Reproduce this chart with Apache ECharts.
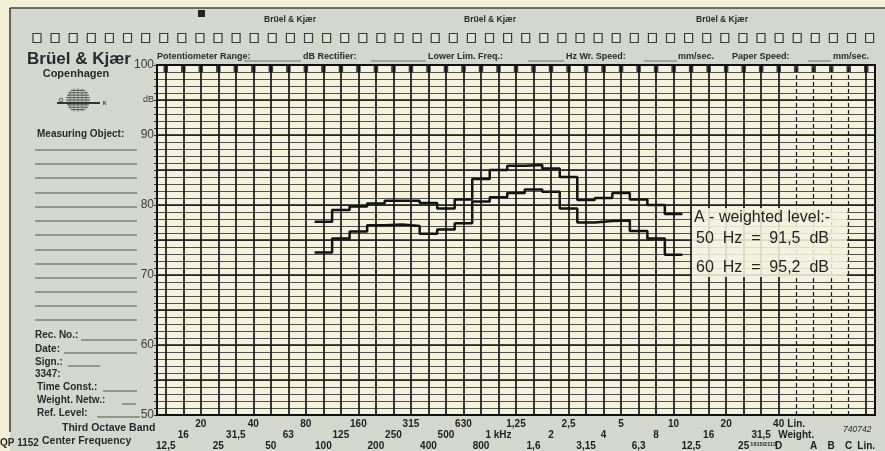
<!DOCTYPE html>
<html><head><meta charset="utf-8">
<script src="https://cdn.jsdelivr.net/npm/echarts@6/dist/echarts.min.js"></script>
<style>html,body{margin:0;padding:0;background:#d4d7ce;}#c{width:885px;height:451px;}</style>
</head><body><div id="c"></div>
<script>
// ---- data ----
const bandLabels = ['12,5','16','20','25','31,5','40','50','63','80','100','125','160','200','250','315','400','500','630','800','1 kHz','1,25','1,6','2','2,5','3,15','4','5','6,3','8','10','12,5','16','20','25','31,5','40'];
const row1Extra = {36: 'Lin.'};
const row2Extra = {36: 'Weight.'};
const row3Extra = {34: '1615/2113', 35: 'D', 37: 'A', 38: 'B', 39: 'C', 40: 'Lin.'};
const dashedColumns = [36, 37, 38, 39];
const yTickLabels = {100: '100', 95: 'dB', 90: '90', 80: '80', 70: '70', 60: '60', 50: '50'};
const upperStart = 9;   // first band index (100 Hz)
const upperLevels = [77.6, 79.3, 79.8, 80.2, 80.6, 80.6, 80.3, 79.5, 80.8, 83.7, 85.0, 85.6, 85.7, 85.2, 84.0, 80.7, 81.0, 81.7, 80.8, 80.0, 78.7];
const lowerStart = 9;
const lowerLevels = [73.2, 75.2, 76.2, 77.1, 77.2, 77.0, 75.9, 76.5, 77.4, 80.5, 81.1, 81.7, 82.2, 81.9, 79.5, 77.5, 77.7, 77.8, 76.3, 75.2, 72.9];
const noteLines = ['A - weighted level:-', '50  Hz  =  91,5  dB', '60  Hz  =  95,2  dB'];
const headerFields = [
  ['Potentiometer Range:', 157], ['dB Rectifier:', 303], ['Lower Lim. Freq.:', 428],
  ['Hz Wr. Speed:', 566], ['mm/sec.', 678], ['Paper Speed:', 732], ['mm/sec.', 833]
];
const headerBlanks = [[244, 301], [371, 426], [528, 564], [644, 677], [808, 831]];

// ---- build ----
const F = '"Liberation Sans", Arial, sans-serif';
const nCols = 41;
function rowArr(r, extra) {
  const a = [];
  for (let i = 0; i < nCols; i++) {
    a.push(i < bandLabels.length && (i % 3) === r ? bandLabels[i] : (extra[i] || ''));
  }
  return a;
}
function stepData(start, vals) {
  const d = vals.map((v, i) => [start + i, v]);
  d.push([start + vals.length, vals[vals.length - 1]]);
  return d;
}
function catAxis(data, offset) {
  return {
    type: 'category', data, position: 'bottom', offset, boundaryGap: true,
    axisLine: {show: false}, axisTick: {show: false}, splitLine: {show: false},
    axisLabel: {
      interval: 0, margin: 2, fontSize: 10, fontWeight: 'bold', color: '#222', fontFamily: F,
      formatter: v => v === '1615/2113' ? '{s|' + v + '}' : v,
      rich: {s: {fontSize: 5.5, fontWeight: 'bold', fontFamily: F, color: '#222', padding: [0, 0, 0, 4]}}
    }
  };
}
const vLines = [];
for (let k = 0; k < nCols; k++) {
  const dashed = dashedColumns.indexOf(k) >= 0;
  vLines.push({xAxis: k + 0.5, lineStyle: {color: '#161616', width: dashed ? 1.2 : 1.7, type: dashed ? [4, 3] : 'solid'}});
}
const topMarks = [];
for (let k = 0; k < nCols; k++) topMarks.push([k + 0.5, 100]);

function txt(text, x, y, size, opts) {
  opts = opts || {};
  return {type: 'text', x, y, z: opts.z || 10, style: {
    text, font: (opts.style || '') + ' ' + (opts.weight || 'bold') + ' ' + size + 'px ' + F,
    fill: opts.color || '#2a2a2a', align: opts.align || 'left', textAlign: opts.align || 'left',
    verticalAlign: 'middle', textVerticalAlign: 'middle'}};
}
function ln(x1, y1, x2, y2, w, c, z) {
  return {type: 'line', z: z || 10, shape: {x1, y1, x2, y2}, style: {stroke: c || '#444', lineWidth: w || 1}};
}
const g = [];
g.push({type: 'rect', z: 1, shape: {x: 0, y: 0, width: 885, height: 8}, style: {fill: '#f3eed8'}});
g.push({type: 'rect', z: 1, shape: {x: 0, y: 0, width: 10, height: 451}, style: {fill: '#f3eed8'}});
g.push(ln(10, 8, 885, 8, 1.6, '#444'));
g.push(ln(10, 8, 10, 432, 1.6, '#444'));
g.push({type: 'rect', z: 10, shape: {x: 198, y: 10, width: 7, height: 7}, style: {fill: '#222'}});
[290, 490, 722].forEach(cx => g.push(txt('Brüel & Kjær', cx, 20, 8.5, {align: 'center'})));
for (let i = 0; 37 + 18.1 * i < 884; i++) {
  g.push({type: 'rect', z: 10, shape: {x: 33 + 18.1 * i, y: 33.5, width: 8, height: 9}, style: {fill: '#dfe1d9', stroke: '#3a3a3a', lineWidth: 1.2}});
}
headerFields.forEach(f => g.push(txt(f[0], f[1], 57, 9, {})));
headerBlanks.forEach(b => g.push(ln(b[0], 61, b[1], 61, 0.8, '#555')));
g.push(txt('Brüel & Kjær', 79, 59, 17, {align: 'center'}));
g.push(txt('Copenhagen', 76, 74, 11, {align: 'center'}));
// logo
for (let dy = -12; dy <= 12; dy += 2.4) {
  const hw = Math.sqrt(Math.max(0, 144 - dy * dy));
  g.push(ln(78 - hw, 100 + dy, 78 + hw, 100 + dy, 1.1, '#555'));
}
for (let dx = -8; dx <= 8; dx += 4) {
  const hh = Math.sqrt(Math.max(0, 144 - dx * dx));
  g.push(ln(78 + dx, 100 - hh, 78 + dx, 100 + hh, 0.7, '#666'));
}
g.push(ln(57, 103, 100, 103, 2, '#333'));
g.push({type: 'circle', z: 10, shape: {cx: 61, cy: 100, r: 1.8}, style: {fill: 'none', stroke: '#444', lineWidth: 0.8}});
g.push(txt('K', 103, 104, 5, {}));
g.push(txt('Measuring Object:', 37, 134, 10, {}));
[150, 164, 178, 193, 207, 221, 235, 250, 264, 278, 292, 306, 320].forEach(y => g.push(ln(35, y, 137, y, 1, '#555')));
g.push(txt('Rec. No.:', 35, 335, 10, {})); g.push(ln(81, 340, 137, 340, 1, '#555'));
g.push(txt('Date:', 35, 349, 10, {})); g.push(ln(64, 353, 137, 353, 1, '#555'));
g.push(txt('Sign.:', 35, 362, 10, {})); g.push(ln(68, 366, 100, 366, 1, '#555'));
g.push(txt('3347:', 35, 374, 10, {}));
g.push(txt('Time Const.:', 37, 387, 10, {})); g.push(ln(103, 391, 137, 391, 1, '#555'));
g.push(txt('Weight. Netw.:', 37, 400, 10, {})); g.push(ln(122, 404, 136, 404, 1, '#555'));
g.push(txt('Ref. Level:', 37, 413, 10, {})); g.push(ln(97, 417, 140, 417, 1, '#555'));
g.push(txt('Third Octave Band', 62, 428, 10.5, {}));
g.push(txt('QP 1152', 0, 443, 10, {}));
g.push(txt('Center Frequency', 42, 441, 10.5, {}));
g.push(txt('740742', 843, 430, 8.5, {style: 'italic', weight: 'normal'}));
// plot frame
g.push({type: 'rect', z: 60, shape: {x: 157, y: 65, width: 718, height: 350}, style: {fill: 'none', stroke: '#111', lineWidth: 2}});
// annotation
g.push({type: 'rect', z: 70, shape: {x: 692, y: 208, width: 155, height: 69}, style: {fill: '#f4f2df', opacity: 0.88}});
g.push(txt(noteLines[0], 694, 218, 16, {weight: 'normal', color: '#222', z: 71}));
g.push(txt(noteLines[1], 696, 239, 16, {weight: 'normal', color: '#222', z: 71}));
g.push(txt(noteLines[2], 696, 268, 16, {weight: 'normal', color: '#222', z: 71}));

const chart = echarts.init(document.getElementById('c'), null, {renderer: 'canvas'});
chart.setOption({
  animation: false,
  backgroundColor: '#d4d7ce',
  grid: {left: 157, top: 65, width: 718, height: 350, show: true, backgroundColor: '#f4f1dc', borderWidth: 0},
  xAxis: [
    {type: 'value', min: 0, max: nCols, show: false},
    catAxis(rowArr(2, row1Extra), 2),
    catAxis(rowArr(1, row2Extra), 13),
    catAxis(rowArr(0, row3Extra), 24)
  ],
  yAxis: [
    {type: 'value', min: 50, max: 100, interval: 1,
      axisLine: {show: true, lineStyle: {color: '#1a1a1a', width: 2}},
      axisTick: {show: true, length: 3, lineStyle: {color: '#333', width: 1}},
      axisLabel: {margin: 3, color: '#3a3a3a', fontSize: 12, fontFamily: F,
        formatter: v => yTickLabels[v] === undefined ? '' : (v === 95 ? '{d|dB}' : yTickLabels[v]),
        rich: {d: {fontSize: 9, color: '#3a3a3a', fontFamily: F}}},
      splitLine: {show: true, lineStyle: {color: '#3c3c3c', width: 0.9}}},
    {type: 'value', min: 50, max: 100, interval: 5, position: 'left',
      axisLine: {show: false}, axisTick: {show: false}, axisLabel: {show: false},
      splitLine: {show: true, lineStyle: {color: '#161616', width: 1.6}}}
  ],
  series: [
    {type: 'line', xAxisIndex: 0, yAxisIndex: 0, step: 'end', showSymbol: false, z: 5,
      data: stepData(upperStart, upperLevels),
      lineStyle: {color: '#121212', width: 2.5},
      markLine: {silent: true, symbol: ['none', 'none'], label: {show: false}, animation: false, data: vLines}},
    {type: 'line', xAxisIndex: 0, yAxisIndex: 0, step: 'end', showSymbol: false, z: 5,
      data: stepData(lowerStart, lowerLevels),
      lineStyle: {color: '#121212', width: 2.5}},
    {type: 'scatter', xAxisIndex: 0, yAxisIndex: 0, clip: false, z: 6, data: topMarks,
      symbol: 'rect', symbolSize: [4.5, 7], symbolOffset: [0, 3.5], itemStyle: {color: '#111'}}
  ],
  graphic: {elements: g}
});
</script></body></html>
